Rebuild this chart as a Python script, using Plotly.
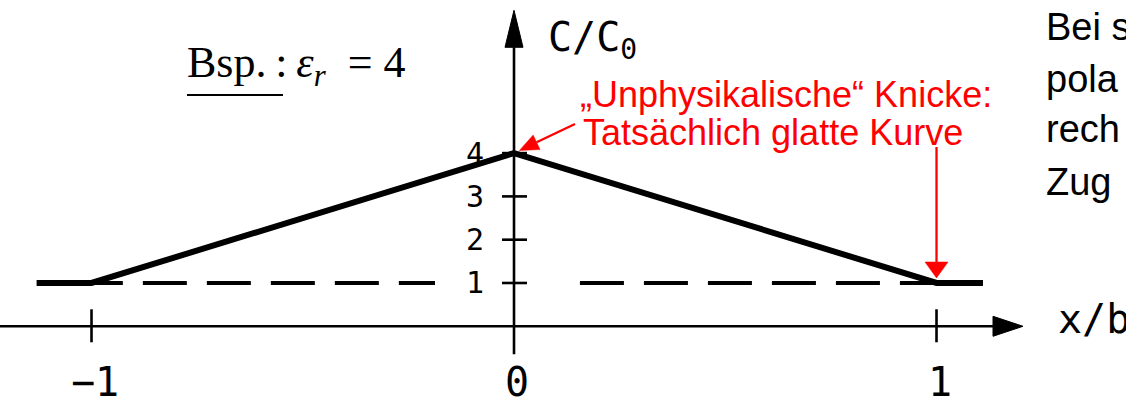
import math
import plotly.graph_objects as go

# Normalised capacitance C/C0 along x/b (piecewise linear model, eps_r = 4)
x_curve = [-1.13, -1.0, 0.0, 1.0, 1.11]
c_curve = [1, 1, 4, 1, 1]

# Dashed reference level C/C0 = 1, interrupted around the vertical axis
ref_left_x = [-1.03, -0.187]
ref_right_x = [0.156, 1.0]
ref_level = [1, 1]

# Axis ticks and labels
x_ticks = [-1, 1]
x_label_pos = [-1, 0, 1]
x_tick_labels = ["\u22121", "0", "1"]
y_ticks = [1, 2, 3, 4]
y_tick_labels = ["1", "2", "3", "4"]

# Canvas and coordinate system
W, H = 1126, 406
X_RANGE = [-1.2166, 1.4485]
Y_RANGE = [-1.841, 7.536]
PX_X = W / (X_RANGE[1] - X_RANGE[0])   # pixels per x unit
PX_Y = H / (Y_RANGE[1] - Y_RANGE[0])   # pixels per y unit


def dx(p):
    return p / PX_X


def dy(p):
    return p / PX_Y


def at(xp, yp):
    """Canvas position (pixels from top-left) -> data coordinates."""
    return X_RANGE[0] + xp / PX_X, Y_RANGE[1] - yp / PX_Y


def to_px(x, y):
    """Data coordinates -> canvas position (pixels from top-left)."""
    return (x - X_RANGE[0]) * PX_X, (Y_RANGE[1] - y) * PX_Y


MONO = "DejaVu Sans Mono"
SANS = "Liberation Sans, Arial"
SERIF = "Liberation Serif, Times New Roman"
RED = "#ff0000"

fig = go.Figure()

# dashed reference level
for xs in (ref_left_x, ref_right_x):
    fig.add_trace(go.Scatter(
        x=xs, y=ref_level, mode="lines",
        line=dict(color="black", width=4, dash="44px,20px"),
        hoverinfo="skip", showlegend=False))

# the capacitance curve
fig.add_trace(go.Scatter(
    x=x_curve, y=c_curve, mode="lines",
    line=dict(color="black", width=6),
    hoverinfo="skip", showlegend=False))

shapes = []
AX_W = 2.6

# horizontal axis with arrow
x_tip = dx(1023 - 514)
x_head = dx(30)
shapes.append(dict(type="line", xref="x", yref="y", x0=X_RANGE[0], x1=x_tip - x_head,
                   y0=0, y1=0, line=dict(color="black", width=AX_W), layer="below"))
shapes.append(dict(type="path", xref="x", yref="y",
                   path=f"M {x_tip},0 L {x_tip - x_head},{dy(10)} L {x_tip - x_head},{-dy(10)} Z",
                   fillcolor="black", line=dict(color="black", width=1)))

# vertical axis with arrow
y_tip = dy(316)
y_head = dy(37)
shapes.append(dict(type="line", xref="x", yref="y", x0=0, x1=0,
                   y0=-dy(28), y1=y_tip - y_head, line=dict(color="black", width=AX_W),
                   layer="below"))
shapes.append(dict(type="path", xref="x", yref="y",
                   path=f"M 0,{y_tip} L {dx(9)},{y_tip - y_head} L {-dx(9)},{y_tip - y_head} Z",
                   fillcolor="black", line=dict(color="black", width=1)))

# tick marks
for t in x_ticks:
    shapes.append(dict(type="line", xref="x", yref="y", x0=t, x1=t,
                       y0=-dy(16), y1=dy(17), line=dict(color="black", width=AX_W),
                       layer="below"))
for t in y_ticks:
    shapes.append(dict(type="line", xref="x", yref="y", x0=-dx(12), x1=dx(13),
                       y0=t, y1=t, line=dict(color="black", width=AX_W), layer="below"))

# underline of "Bsp."
ux0, uy = at(187, 95)
ux1, _ = at(283, 95)
shapes.append(dict(type="line", xref="x", yref="y", x0=ux0, x1=ux1, y0=uy, y1=uy,
                   line=dict(color="black", width=2)))


def red_arrow(target, tail_px, standoff, head_len, head_half):
    """Red arrow from a canvas point to a data point, stopping short by `standoff`."""
    tx, ty = to_px(*target)
    sx, sy = tail_px
    L = math.hypot(tx - sx, ty - sy)
    ux, uy = (tx - sx) / L, (ty - sy) / L
    tipx, tipy = tx - ux * standoff, ty - uy * standoff
    bx, by = tipx - ux * head_len, tipy - uy * head_len
    nx, ny = -uy, ux
    p = [at(sx, sy), at(bx, by)]
    shapes.append(dict(type="line", xref="x", yref="y",
                       x0=p[0][0], y0=p[0][1], x1=p[1][0], y1=p[1][1],
                       line=dict(color=RED, width=2.3)))
    a = at(tipx, tipy)
    b = at(bx + nx * head_half, by + ny * head_half)
    c = at(bx - nx * head_half, by - ny * head_half)
    shapes.append(dict(type="path", xref="x", yref="y",
                       path=f"M {a[0]},{a[1]} L {b[0]},{b[1]} L {c[0]},{c[1]} Z",
                       fillcolor=RED, line=dict(color=RED, width=0.5)))


# red arrows towards the kinks of the curve
red_arrow((x_curve[2], c_curve[2]), (575, 124), 6, 19, 8)
red_arrow((x_curve[3], c_curve[3]), (to_px(x_curve[3], 0)[0], 147), 5, 16, 11.5)

annotations = []


def text(s, xp, yp, size, family, color="black", xanchor="left"):
    x, y = at(xp, yp)
    annotations.append(dict(x=x, y=y, xref="x", yref="y", text=s, showarrow=False,
                            xanchor=xanchor, yanchor="middle",
                            font=dict(size=size, family=family, color=color)))


# tick labels
for pos, lab in zip(x_label_pos, x_tick_labels):
    annotations.append(dict(x=pos + dx(3), y=Y_RANGE[1] - 382 / PX_Y, xref="x", yref="y",
                            text=lab, showarrow=False, xanchor="center", yanchor="middle",
                            font=dict(size=40, family=MONO, color="black")))
for pos, lab in zip(y_ticks, y_tick_labels):
    annotations.append(dict(x=-dx(28), y=pos, xref="x", yref="y", text=lab,
                            showarrow=False, xanchor="right", yanchor="middle",
                            font=dict(size=30, family=MONO, color="black")))

# axis titles
text("C/C<sub>0</sub>", 546, 40, 40, MONO)
text("x/b", 1056, 319, 40, MONO)

# example parameter
text("Bsp.\u2009:\u2009<i>\u03b5<sub>r</sub></i>\u2002= 4", 185, 65, 44, SERIF)

# red remark
text("\u201eUnphysikalische\u201c Knicke:", 578, 94.5, 36, SANS, RED)
text("Tats\u00e4chlich glatte Kurve", 581, 132, 36, SANS, RED)

# side text
for s, yc in zip(["Bei s", "pola", "rech", "Zug"], [26.7, 78.7, 128.7, 181.7]):
    text(s, 1044, yc, 38, SANS)

fig.update_layout(
    width=W, height=H,
    margin=dict(l=0, r=0, t=0, b=0),
    paper_bgcolor="white", plot_bgcolor="white",
    xaxis=dict(range=X_RANGE, visible=False, fixedrange=True),
    yaxis=dict(range=Y_RANGE, visible=False, fixedrange=True),
    shapes=shapes, annotations=annotations,
    showlegend=False,
)

fig.write_html("out.html", config={"displayModeBar": False})
